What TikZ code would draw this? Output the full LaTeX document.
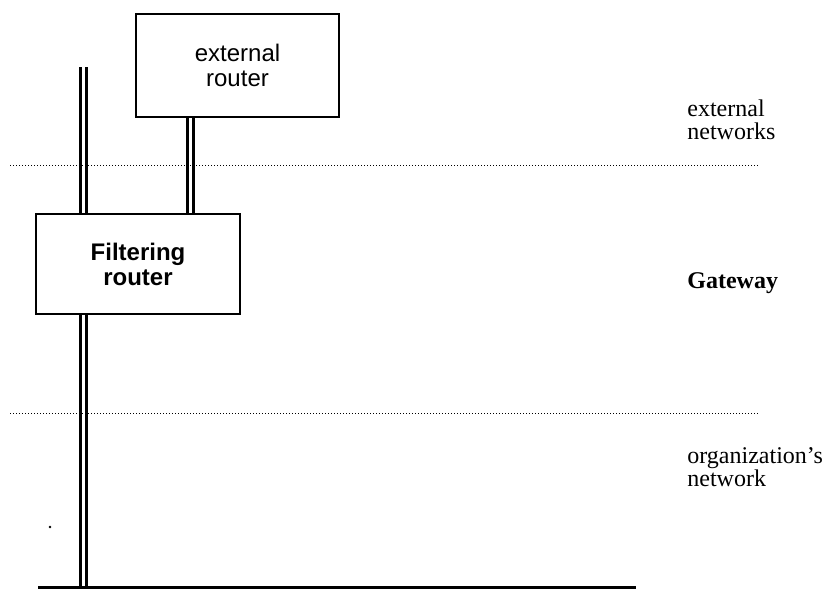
\documentclass[tikz,border=0pt]{standalone}
\usepackage{fontspec}
\setmainfont{Liberation Serif}
\newfontfamily\helvfont{Liberation Sans}
\usetikzlibrary{positioning, calc, backgrounds}

\begin{document}
\begin{tikzpicture}[x=0.5pt, y=-0.5pt,
    routerbox/.style={draw, line width=1pt, fill=white, minimum width=101.5pt, minimum height=51.5pt, align=center, inner sep=0pt, font=\helvfont\fontsize{12}{12.5}\selectfont},
    cable/.style={double, double distance=1.5pt, line width=1.5pt},
    zoneline/.style={line width=0.5pt, dash pattern=on 0.5pt off 1pt},
    zonelabel/.style={align=left, inner sep=0pt, font=\fontsize{12}{11.5}\selectfont}]
      \useasboundingbox (0,0) rectangle (834,591);

      % Zone boundaries
      \foreach \y in {165, 413} {
        \draw[zoneline] (10, \y) -- (760, \y);
      }

      % Routers
      \node[routerbox] (extrouter) at (237.5, 65.5) {external\\router};
      \node[routerbox, minimum width=102pt, minimum height=50pt, font=\helvfont\bfseries\fontsize{12}{12.5}\selectfont] (filter) at (138, 264) {Filtering\\router};

      % Cables
      \coordinate (lantop) at (83.5, 67);
      \coordinate (lanleft) at (38, 587);
      \coordinate (lanright) at (636, 587);
      \coordinate (uplink) at (190, 117);
      \begin{scope}[on background layer]
        \draw[cable] (lantop) -- (lantop |- filter.north);
        \draw[cable] (filter.south -| lantop) -- (lantop |- lanleft);
        \draw[cable] (extrouter.south -| uplink) -- (uplink |- filter.north);
      \end{scope}
      \draw[line width=1.5pt] (lanleft) -- (lanright);
      \fill (50, 527) circle (0.7pt);

      % Zone labels
      \node[zonelabel, anchor=west] (extnet) at (687, 120) {external\\networks};
      \node[zonelabel, anchor=base west, font=\bfseries\fontsize{12}{11.5}\selectfont] (gateway) at (687, 288) {Gateway};
      \node[zonelabel, anchor=west] (orgnet) at (687, 467) {organization's\\network};
    \end{tikzpicture}
\end{document}
